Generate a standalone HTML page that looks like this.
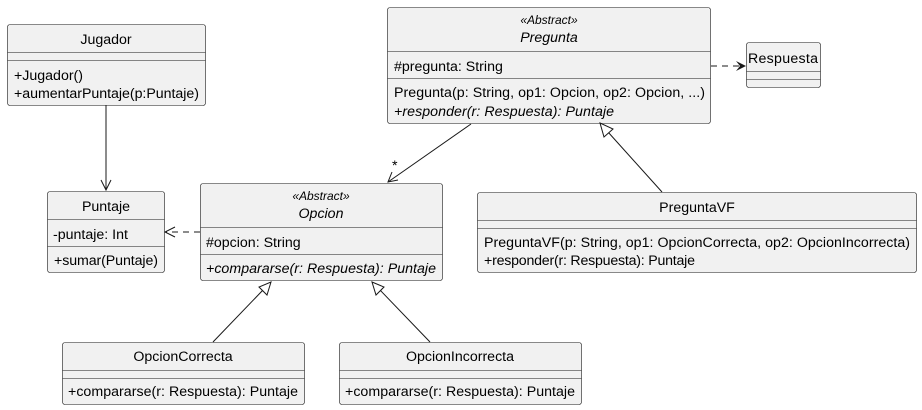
<!DOCTYPE html>
<html><head><meta charset="utf-8"><style>
body{margin:0;background:#fff}
svg{display:block}
text{font-family:"Liberation Sans",sans-serif;font-size:14.2px;fill:#000}
.b{fill:#f1f1f1;stroke:#181818;stroke-width:0.6}
.l{stroke:#181818;stroke-width:0.6}
.c{stroke:#181818;stroke-width:1;fill:none}
.i{font-style:italic}
.s{font-size:12px;font-style:italic}
</style></head><body>
<svg width="922" height="410" viewBox="0 0 922 410" xmlns="http://www.w3.org/2000/svg">
<!-- Jugador -->
<rect class="b" x="7.5" y="24.5" width="198" height="81" rx="2.5"/>
<line class="l" x1="7.5" y1="52.5" x2="205.5" y2="52.5"/>
<line class="l" x1="7.5" y1="60.5" x2="205.5" y2="60.5"/>
<text x="106" y="44" text-anchor="middle">Jugador</text>
<text x="14" y="80">+Jugador()</text>
<text x="14" y="98" textLength="185">+aumentarPuntaje(p:Puntaje)</text>
<!-- Puntaje -->
<rect class="b" x="47.5" y="191.5" width="117" height="81" rx="2.5"/>
<line class="l" x1="47.5" y1="219.5" x2="164.5" y2="219.5"/>
<line class="l" x1="47.5" y1="246.5" x2="164.5" y2="246.5"/>
<text x="106" y="211" text-anchor="middle">Puntaje</text>
<text x="53" y="239">-puntaje: Int</text>
<text x="54" y="265" textLength="104">+sumar(Puntaje)</text>
<!-- Opcion -->
<rect class="b" x="200.5" y="183.5" width="242" height="97" rx="2.5"/>
<line class="l" x1="200.5" y1="227.5" x2="442.5" y2="227.5"/>
<line class="l" x1="200.5" y1="254.5" x2="442.5" y2="254.5"/>
<text class="s" x="321" y="200" text-anchor="middle">«Abstract»</text>
<text class="i" x="321" y="218" text-anchor="middle">Opcion</text>
<text x="206" y="247">#opcion: String</text>
<text class="i" x="206" y="273" textLength="230">+compararse(r: Respuesta): Puntaje</text>
<!-- Pregunta -->
<rect class="b" x="387.5" y="7.5" width="323" height="116" rx="2.5"/>
<line class="l" x1="387.5" y1="51.5" x2="710.5" y2="51.5"/>
<line class="l" x1="387.5" y1="78.5" x2="710.5" y2="78.5"/>
<text class="s" x="549" y="24" text-anchor="middle">«Abstract»</text>
<text class="i" x="549" y="42" text-anchor="middle">Pregunta</text>
<text x="394" y="71">#pregunta: String</text>
<text x="394" y="97" textLength="311">Pregunta(p: String, op1: Opcion, op2: Opcion, ...)</text>
<text class="i" x="394" y="116" textLength="220">+responder(r: Respuesta): Puntaje</text>
<!-- Respuesta -->
<rect class="b" x="746.5" y="42.5" width="74" height="45" rx="2.5"/>
<line class="l" x1="746.5" y1="71.5" x2="820.5" y2="71.5"/>
<line class="l" x1="746.5" y1="79.5" x2="820.5" y2="79.5"/>
<text x="748" y="63" textLength="70">Respuesta</text>
<!-- PreguntaVF -->
<rect class="b" x="477.5" y="192.5" width="439" height="80" rx="2.5"/>
<line class="l" x1="477.5" y1="220.5" x2="916.5" y2="220.5"/>
<line class="l" x1="477.5" y1="228.5" x2="916.5" y2="228.5"/>
<text x="697" y="212" text-anchor="middle">PreguntaVF</text>
<text x="484" y="247" textLength="426">PreguntaVF(p: String, op1: OpcionCorrecta, op2: OpcionIncorrecta)</text>
<text x="484" y="265" textLength="211">+responder(r: Respuesta): Puntaje</text>
<!-- OpcionCorrecta -->
<rect class="b" x="62.5" y="342.5" width="242" height="62" rx="2.5"/>
<line class="l" x1="62.5" y1="370.5" x2="304.5" y2="370.5"/>
<line class="l" x1="62.5" y1="378.5" x2="304.5" y2="378.5"/>
<text x="183" y="361" text-anchor="middle">OpcionCorrecta</text>
<text x="68" y="396" textLength="230">+compararse(r: Respuesta): Puntaje</text>
<!-- OpcionIncorrecta -->
<rect class="b" x="339.5" y="342.5" width="242" height="62" rx="2.5"/>
<line class="l" x1="339.5" y1="370.5" x2="581.5" y2="370.5"/>
<line class="l" x1="339.5" y1="378.5" x2="581.5" y2="378.5"/>
<text x="460" y="361" text-anchor="middle">OpcionIncorrecta</text>
<text x="345" y="396" textLength="230">+compararse(r: Respuesta): Puntaje</text>
<!-- connectors -->
<line class="c" x1="106" y1="105" x2="106" y2="190"/>
<polyline class="c" points="101,180 106,190 111,180" stroke-width="1.5"/>
<line class="c" x1="471" y1="124" x2="388" y2="182"/>
<polyline class="c" points="392,172 388,182 398,180" stroke-width="1.5"/>
<text x="392" y="170">*</text>
<line class="c" x1="200" y1="232" x2="166" y2="232" stroke-dasharray="6,5"/>
<polyline class="c" points="175,227 165,232 175,237" stroke-width="1.5"/>
<line class="c" x1="711" y1="66" x2="744" y2="66" stroke-dasharray="6,5"/>
<polygon points="736,61 746,66 736,71 740,66" fill="#181818"/>
<line class="c" x1="662" y1="192" x2="608" y2="132"/>
<polygon points="600,123 613,129 604,137" fill="#fff" stroke="#181818"/>
<line class="c" x1="213" y1="342" x2="263" y2="290"/>
<polygon points="271,282 267,295 259,287" fill="#fff" stroke="#181818"/>
<line class="c" x1="430" y1="342" x2="380" y2="290"/>
<polygon points="372,282 384,287 376,295" fill="#fff" stroke="#181818"/>
</svg>
</body></html>
